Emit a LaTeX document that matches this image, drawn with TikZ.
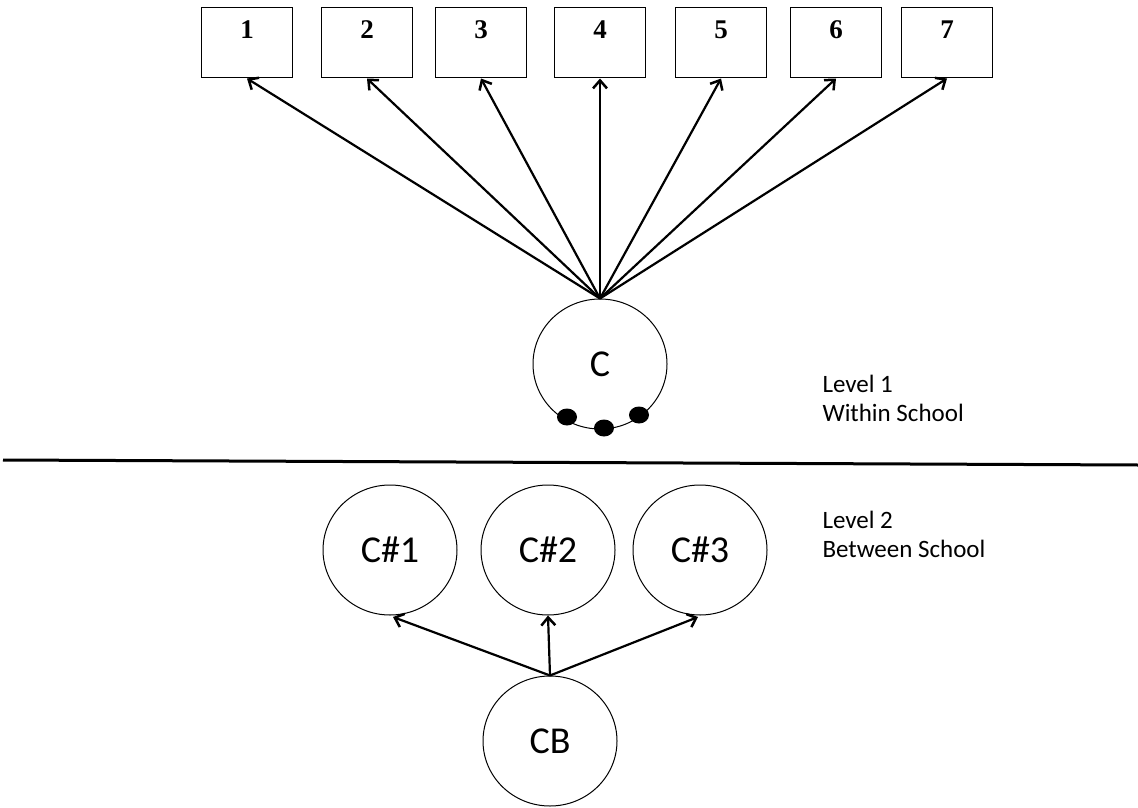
\documentclass[tikz,border=0pt]{standalone}
\usepackage{fontspec}
\setmainfont{Carlito}
\newfontfamily\numfont{Liberation Serif}
\usetikzlibrary{shapes.geometric,arrows.meta}
\tikzset{every picture/.style={line width=1pt}}
\tikzset{item/.style={draw, rectangle, minimum width=91pt, inner xsep=0pt, inner ysep=0pt,
    text height=31pt, text depth=39pt, font=\numfont\bfseries\fontsize{27}{27}\selectfont},
  factor/.style={draw, ellipse, minimum width=134pt, minimum height=130pt, inner sep=0pt,
    font=\fontsize{38}{38}\selectfont},
  dot/.style={fill, ellipse, minimum width=20pt, minimum height=17pt, inner sep=0pt},
  load/.style={-{Straight Barb[length=8pt,width=14pt,line width=2.5pt]}, line width=2.2pt},
  level/.style={anchor=north west, align=left, inner sep=0pt, font=\fontsize{25}{29}\selectfont}}

\begin{document}
\begin{tikzpicture}[x=1pt,y=-1pt]
  \useasboundingbox (0,0) rectangle (1138,808);
  % level 1 indicators
  \node[item] (i1) at (247,43) {1};
  \node[item] (i2) at (367,43) {2};
  \node[item] (i3) at (481,43) {3};
  \node[item] (i4) at (600,43) {4};
  \node[item] (i5) at (721,43) {5};
  \node[item] (i6) at (836,43) {6};
  \node[item] (i7) at (947,43) {7};
  \node[factor] (c) at (600,364) {C};
  \foreach \i in {1,...,7}
    \draw[load] (c.north) -- (i\i.south);
  \node[dot] (d1) at (567,417) {};
  \node[dot] (d2) at (604,428) {};
  \node[dot] (d3) at (639,415) {};
  \node[level] (lvl1) at (822,375) {Level 1\\Within School};
  % divider
  \draw[line width=3pt] (3,460) -- (1138,465);
  % level 2
  \node[factor] (c1) at (390,550) {C\#1};
  \node[factor] (c2) at (548,550) {C\#2};
  \node[factor] (c3) at (700,550) {C\#3};
  \node[factor] (cb) at (550,741) {CB};
  \draw[load] (cb.north) -- (393,617);
  \draw[load] (cb.north) -- (c2.south);
  \draw[load] (cb.north) -- (698,617);
  \node[level] (lvl2) at (822,511) {Level 2\\Between School};
\end{tikzpicture}
\end{document}
